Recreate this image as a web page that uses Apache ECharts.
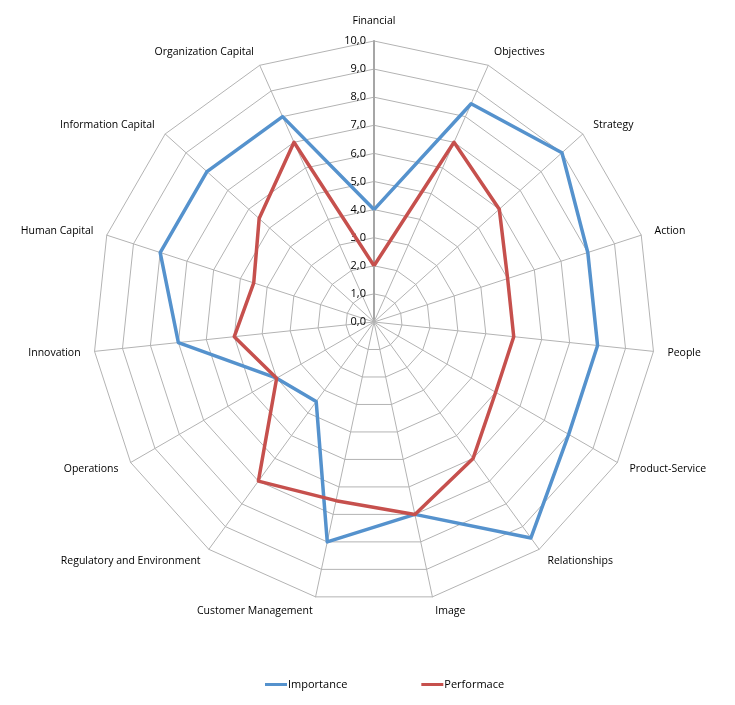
<!DOCTYPE html>
<html>
<head>
<meta charset="utf-8">
<script src="https://cdn.jsdelivr.net/npm/echarts@6/dist/echarts.min.js"></script>
<style>
html, body { margin: 0; padding: 0; background: #fff; }
#chart { width: 735px; height: 705px; }
</style>
</head>
<body>
<div id="chart"></div>
<script>
var categories = ['Financial', 'Objectives', 'Strategy', 'Action', 'People', 'Product-Service',
    'Relationships', 'Image', 'Customer Management', 'Regulatory and Environment', 'Operations',
    'Innovation', 'Human Capital', 'Information Capital', 'Organization Capital'];
var importance = [4.0, 8.5, 9.0, 8.0, 8.0, 8.0, 9.5, 7.0, 8.0, 3.5, 4.0, 7.0, 8.0, 8.0, 8.0];
var performance = [2.0, 7.0, 6.0, 5.0, 5.0, 5.0, 6.0, 7.0, 6.5, 7.0, 4.0, 5.0, 4.5, 5.5, 7.0];
var axisMax = 10;

var chart = echarts.init(document.getElementById('chart'));

// echarts lays radar axes out counter-clockwise, the original goes clockwise:
// keep the first axis on top and walk the rest backwards
var order = [0];
for (var k = categories.length - 1; k > 0; k--) order.push(k);
function reorder(arr) {
    return order.map(function (i) { return arr[i]; });
}

var indicators = reorder(categories).map(function (name, i) {
    var ind = { name: name, min: 0, max: axisMax };
    if (i === 0) {
        // only the first axis carries the value labels
        ind.axisLabel = { show: true };
        ind.axisLine = { lineStyle: { color: '#a6a6a6', width: 2 } };
    }
    return ind;
});

var option = {
    textStyle: { fontFamily: 'Open Sans' },
    legend: {
        bottom: 10,
        left: 260,
        itemGap: 74,
        icon: 'rect',
        itemWidth: 22,
        itemHeight: 3,
        textStyle: { fontSize: 11, color: '#000', padding: [0, 0, 0, -4] },
        data: ['Importance', 'Performace']
    },
    radar: {
        center: [374, 322],
        radius: 281,
        startAngle: 90,
        shape: 'polygon',
        splitNumber: 10,
        indicator: indicators,
        axisName: { color: '#000', fontSize: 10.5 },
        nameGap: 14,
        axisLine: { lineStyle: { color: '#b3b3b3', width: 1 } },
        splitLine: { lineStyle: { color: '#b3b3b3', width: 1 } },
        splitArea: { show: false },
        axisLabel: {
            show: false,
            color: '#000',
            fontSize: 11,
            formatter: function (v) { return v.toFixed(1).replace('.', ','); }
        }
    },
    series: [{
        type: 'radar',
        symbol: 'none',
        data: [{
            name: 'Importance',
            value: reorder(importance),
            lineStyle: { color: '#5592cd', width: 3.5 },
            itemStyle: { color: '#5592cd' }
        }, {
            name: 'Performace',
            value: reorder(performance),
            lineStyle: { color: '#c6504d', width: 3.5 },
            itemStyle: { color: '#c6504d' }
        }]
    }]
};
chart.setOption(option);
</script>
</body>
</html>
